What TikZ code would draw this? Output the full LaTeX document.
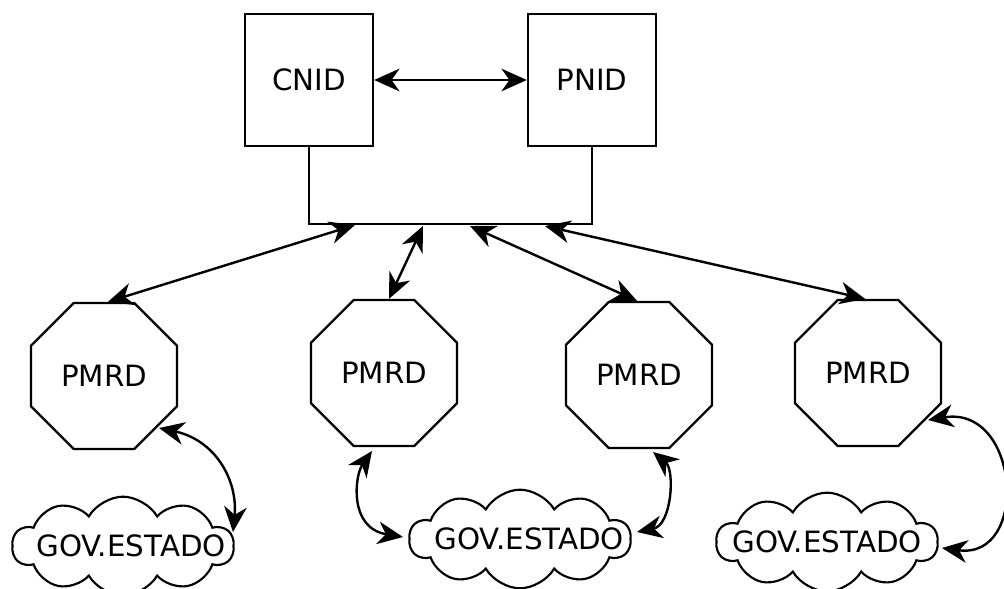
\documentclass[tikz,border=0pt]{standalone}
\usepackage{fontspec}
\setmainfont{DejaVu Sans}
\usetikzlibrary{arrows.meta,shapes.geometric,shapes.symbols,calc}
\begin{document}
\begin{tikzpicture}[x=0.75pt,y=-0.75pt,
  every node/.style={font=\fontsize{22pt}{26pt}\selectfont},
  boxnode/.style={draw,line width=1.8pt,minimum width=96pt,minimum height=99pt,inner sep=0pt},
  octnode/.style={draw,line width=1.8pt,regular polygon,regular polygon sides=8,minimum size=118.5pt,inner sep=0pt},
  cloudnode/.style={draw,line width=1.6pt,cloud,cloud puffs=10,cloud puff arc=120,cloud ignores aspect,minimum width=166pt,minimum height=74pt,inner sep=0pt},
  link/.style={line width=1.8pt,{Stealth[length=19pt,width=17pt,inset=6pt]}-{Stealth[length=19pt,width=17pt,inset=6pt]}},
  bus/.style={line width=1.8pt}]
\useasboundingbox (0,0) rectangle (1004,589);
\node[boxnode] (cnid) at (309,80) {CNID};
\node[boxnode] (pnid) at (592,80) {PNID};
\coordinate (busmid) at (450,224);
\draw[bus] (cnid.south) |- (busmid) -| (pnid.south);
\draw[link] (cnid.east) -- (pnid.west);

\node[octnode] (p1) at (104,376) {PMRD};
\node[octnode] (p2) at (384,373) {PMRD};
\node[octnode] (p3) at (639,375) {PMRD};
\node[octnode] (p4) at (868,373) {PMRD};

\coordinate (t1) at (355,225);
\coordinate (t2) at (423,226);
\coordinate (t3) at (470,226);
\coordinate (t4) at (545,226);
\draw[link] (t1) -- ($(p1.north)+(4,0)$);
\draw[link] (t2) -- ($(p2.north)+(5,0)$);
\draw[link] (t3) -- ($(p3.north)+(-2,0)$);
\draw[link] (t4) -- ($(p4.north)+(-3,0)$);

\node[cloudnode] (c1) at (123,546) {\makebox[0pt]{\hspace*{12pt}GOV.ESTADO}};
\node[cloudnode] (c2) at (520,539) {\makebox[0pt]{\hspace*{14pt}GOV.ESTADO}};
\node[cloudnode] (c3) at (827,542) {\makebox[0pt]{GOV.ESTADO}};

\draw[link] ($(p1.center)+(55,52)$) .. controls (215,440) and (238,480) .. ($(c1.center)+(110,-14)$);
\draw[link] ($(p2.center)+(-12,78)$) .. controls (355,475) and (348,528) .. ($(c2.center)+(-117,-2)$);
\draw[link] ($(p3.center)+(14,77)$) .. controls (675,470) and (672,525) .. ($(c2.center)+(117,-7)$);
\draw[link] ($(p4.center)+(60,47)$) .. controls (1020,405) and (1030,560) .. ($(c3.center)+(115,6)$);
\end{tikzpicture}
\end{document}
